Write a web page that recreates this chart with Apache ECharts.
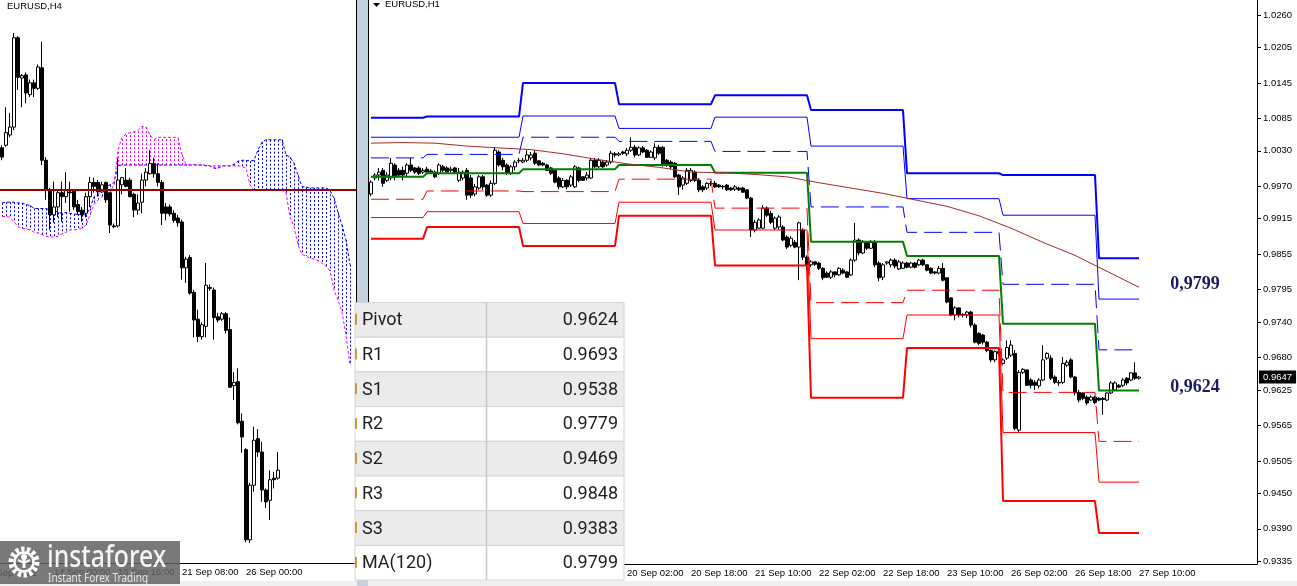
<!DOCTYPE html>
<html><head><meta charset="utf-8">
<script src="https://cdn.jsdelivr.net/npm/echarts@6/dist/echarts.min.js"></script>
<style>html,body{margin:0;padding:0;background:#fff;overflow:hidden}#c{width:1297px;height:586px}</style>
</head><body><div id="c"></div>
<script>
// ---------- categories ----------
const h4Days = ['9 Sep','12 Sep','13 Sep','14 Sep','15 Sep','16 Sep','19 Sep','20 Sep','21 Sep','22 Sep','23 Sep','26 Sep','27 Sep','28 Sep','29 Sep','30 Sep'];
const h1Days = ['15 Sep','16 Sep','19 Sep','20 Sep','21 Sep','22 Sep','23 Sep','26 Sep','27 Sep','28 Sep'];
const h4TickLabels = ['14 Sep 00:00','16 Sep 16:00','21 Sep 08:00','26 Sep 00:00'];
const h1TickLabels = ['20 Sep 02:00','20 Sep 18:00','21 Sep 10:00','22 Sep 02:00','22 Sep 18:00','23 Sep 10:00','26 Sep 02:00','26 Sep 18:00','27 Sep 10:00'];
const yTickLabels = [1.0260,1.0205,1.0145,1.0085,1.0030,0.9970,0.9915,0.9855,0.9795,0.9740,0.9680,0.9625,0.9565,0.9505,0.9450,0.9390,0.9335];

// ---------- H4 candles [open, close, low, high] ----------
const h4Candles = [
[1.0053,1.0041,1.0037,1.0056],[1.0056,1.0072,1.0054,1.0104],[1.0069,1.0079,1.0066,1.0097],[1.0079,1.0192,1.0075,1.0198],
[1.0192,1.0142,1.0126,1.0194],[1.0141,1.0144,1.0104,1.0146],[1.0145,1.0122,1.0109,1.0148],[1.0120,1.0135,1.0117,1.0139],
[1.0135,1.0128,1.0117,1.0139],[1.0128,1.0155,1.0126,1.0158],[1.0154,1.0037,1.0031,1.0187],[1.0037,0.9999,0.9987,1.0041],
[0.9999,0.9968,0.9949,1.0002],[0.9968,0.9978,0.9958,1.0010],[0.9978,0.9996,0.9965,0.9999],[0.9996,0.9991,0.9959,1.0010],
[0.9991,0.9999,0.9983,1.0022],[0.9997,0.9996,0.9972,1.0010],[0.9998,0.9978,0.9974,0.9999],[0.9981,0.9972,0.9968,0.9987],
[0.9974,0.9968,0.9959,0.9978],[0.9970,0.9991,0.9965,0.9996],[0.9991,1.0009,0.9978,1.0016],[1.0009,1.0004,0.9996,1.0015],
[1.0009,0.9997,0.9991,1.0012],[0.9997,1.0006,0.9996,1.0010],[1.0009,0.9987,0.9983,1.0010],[0.9996,0.9955,0.9945,0.9997],
[0.9954,0.9953,0.9951,0.9957],[0.9954,1.0012,0.9952,1.0040],[1.0006,1.0015,0.9994,1.0016],[1.0012,1.0004,1.0003,1.0027],
[1.0012,0.9991,0.9990,1.0015],[0.9994,0.9974,0.9965,0.9996],[0.9974,0.9983,0.9968,0.9994],[0.9984,1.0012,0.9970,1.0020],
[1.0012,1.0022,1.0004,1.0027],[1.0020,1.0033,1.0019,1.0050],[1.0033,1.0020,1.0015,1.0040],[1.0020,1.0009,1.0004,1.0033],
[1.0009,0.9970,0.9955,1.0012],[0.9978,0.9970,0.9961,0.9983],[0.9978,0.9969,0.9966,0.9981],[0.9970,0.9961,0.9958,0.9974],
[0.9964,0.9958,0.9953,0.9968],[0.9959,0.9901,0.9886,0.9962],[0.9901,0.9912,0.9882,0.9915],[0.9914,0.9869,0.9867,0.9917],
[0.9870,0.9835,0.9813,0.9873],[0.9836,0.9814,0.9807,0.9848],[0.9814,0.9829,0.9810,0.9832],[0.9827,0.9879,0.9813,0.9907],
[0.9876,0.9875,0.9872,0.9880],[0.9873,0.9838,0.9810,0.9876],[0.9839,0.9835,0.9832,0.9844],[0.9836,0.9843,0.9834,0.9845],
[0.9843,0.9822,0.9818,0.9845],[0.9823,0.9750,0.9749,0.9838],[0.9752,0.9756,0.9734,0.9769],[0.9757,0.9705,0.9703,0.9774],
[0.9707,0.9687,0.9667,0.9717],[0.9671,0.9557,0.9554,0.9673],[0.9557,0.9626,0.9553,0.9629],[0.9626,0.9683,0.9618,0.9700],
[0.9685,0.9668,0.9662,0.9697],[0.9668,0.9620,0.9605,0.9681],[0.9620,0.9605,0.9597,0.9622],[0.9607,0.9633,0.9582,0.9645],
[0.9635,0.9633,0.9622,0.9643],[0.9635,0.9645,0.9633,0.9668]
];
// Ichimoku cloud spans (H4)
const spanA = [0.9983,0.9984,0.9984,0.9984,0.9983,0.9983,0.9981,0.9980,0.9976,0.9976,0.9976,0.9976,0.9974,0.9974,0.9971,0.9970,
0.9971,0.9970,0.9969,0.9969,0.9968,0.9968,0.9976,0.9991,0.9994,0.9999,1.0004,1.0006,1.0009,1.0030,1.0031,1.0031,
1.0031,1.0031,1.0031,1.0031,1.0031,1.0031,1.0031,1.0031,1.0031,1.0031,1.0031,1.0031,1.0031,1.0031,1.0031,1.0031,
1.0031,1.0031,1.0031,1.0030,1.0030,1.0027,1.0027,1.0030,1.0030,1.0030,1.0032,1.0036,1.0037,1.0037,1.0036,1.0037,
1.0050,1.0060,1.0063,1.0063,1.0063,1.0063,1.0063,1.0044,1.0041,1.0033,1.0018,1.0004,1.0003,1.0002,1.0002,1.0002,
1.0002,1.0002,0.9999,0.9989,0.9971,0.9955,0.9936,0.9905];
const spanB = [0.9966,0.9966,0.9965,0.9959,0.9953,0.9951,0.9950,0.9949,0.9946,0.9945,0.9943,0.9941,0.9940,0.9940,0.9941,0.9944,
0.9946,0.9949,0.9949,0.9950,0.9951,0.9955,0.9968,0.9981,0.9987,0.9991,0.9994,0.9996,1.0006,1.0050,1.0066,1.0070,
1.0072,1.0073,1.0075,1.0080,1.0079,1.0069,1.0063,1.0066,1.0066,1.0066,1.0066,1.0066,1.0066,1.0044,1.0032,1.0031,
1.0032,1.0031,1.0031,1.0031,1.0030,1.0030,1.0030,1.0030,1.0030,1.0030,1.0030,1.0030,1.0029,1.0027,1.0006,0.9999,
1.0000,1.0000,1.0000,1.0000,1.0000,1.0000,0.9999,0.9996,0.9965,0.9953,0.9930,0.9918,0.9916,0.9913,0.9912,0.9910,
0.9907,0.9903,0.9897,0.9873,0.9860,0.9845,0.9816,0.9778];
const h4Level = 0.9999;

// ---------- H1 candles [open, close, low, high] ----------
const h1Candles = [
[0.9957,0.9977,0.9953,0.9980],[0.9984,0.9989,0.9980,0.9992],[0.9989,0.9994,0.9980,1.0001],[0.9997,0.9975,0.9969,1.0001],
[0.9980,0.9989,0.9977,0.9994],[0.9984,1.0009,0.9980,1.0018],[1.0006,0.9986,0.9980,1.0009],[0.9997,0.9989,0.9986,1.0001],
[0.9997,0.9989,0.9980,1.0003],[0.9992,1.0006,0.9986,1.0009],[1.0006,0.9997,0.9994,1.0018],[1.0001,0.9994,0.9991,1.0003],
[1.0001,0.9992,0.9989,1.0004],[0.9994,0.9997,0.9991,1.0001],[0.9999,0.9994,0.9992,1.0003],[0.9996,0.9994,0.9991,0.9999],
[0.9994,0.9986,0.9984,0.9997],[0.9992,1.0006,0.9989,1.0009],[1.0003,0.9997,0.9994,1.0006],[1.0001,0.9994,0.9991,1.0004],
[0.9997,0.9999,0.9994,1.0003],[1.0001,0.9994,0.9991,1.0003],[0.9980,0.9994,0.9977,1.0001],[0.9984,0.9994,0.9980,0.9997],
[0.9997,0.9955,0.9947,1.0001],[0.9984,0.9955,0.9950,0.9989],[0.9957,0.9969,0.9953,0.9974],[0.9967,0.9986,0.9964,0.9989],
[0.9986,0.9969,0.9964,0.9989],[0.9972,0.9955,0.9952,0.9974],[0.9955,0.9975,0.9952,0.9980],[0.9975,1.0031,0.9972,1.0036],
[1.0028,1.0006,1.0003,1.0031],[1.0014,1.0003,0.9997,1.0018],[1.0006,0.9992,0.9989,1.0009],[0.9992,1.0003,0.9989,1.0006],
[1.0003,1.0011,0.9997,1.0014],[1.0013,1.0014,1.0009,1.0018],[1.0011,1.0014,1.0009,1.0018],[1.0014,1.0023,1.0011,1.0031],
[1.0018,1.0023,1.0014,1.0028],[1.0026,1.0009,1.0006,1.0031],[1.0013,1.0006,1.0004,1.0014],[1.0009,1.0006,1.0004,1.0011],
[1.0006,0.9997,0.9996,1.0008],[1.0001,0.9992,0.9989,1.0003],[0.9997,0.9977,0.9975,0.9999],[0.9984,0.9969,0.9965,0.9987],
[0.9969,0.9980,0.9967,0.9984],[0.9980,0.9969,0.9965,0.9982],[0.9972,0.9986,0.9969,0.9989],[0.9969,1.0003,0.9967,1.0006],
[1.0001,0.9980,0.9977,1.0003],[0.9986,0.9980,0.9979,0.9987],[0.9984,0.9989,0.9980,0.9994],[0.9984,1.0014,0.9982,1.0018],
[1.0014,1.0003,1.0001,1.0018],[1.0003,1.0014,1.0001,1.0018],[1.0011,1.0003,1.0001,1.0014],[1.0006,1.0011,1.0003,1.0014],
[1.0011,1.0026,1.0008,1.0030],[1.0025,1.0023,1.0019,1.0028],[1.0023,1.0025,1.0021,1.0028],[1.0028,1.0026,1.0023,1.0030],
[1.0025,1.0031,1.0021,1.0035],[1.0031,1.0036,1.0028,1.0053],[1.0036,1.0023,1.0019,1.0040],[1.0023,1.0035,1.0021,1.0038],
[1.0035,1.0028,1.0026,1.0038],[1.0031,1.0019,1.0018,1.0033],[1.0019,1.0028,1.0018,1.0031],[1.0018,1.0036,1.0014,1.0043],
[1.0036,1.0026,1.0023,1.0040],[1.0036,1.0006,1.0003,1.0038],[1.0014,1.0006,1.0003,1.0016],[1.0011,1.0003,0.9999,1.0014],
[1.0009,0.9986,0.9984,1.0011],[0.9989,0.9969,0.9955,0.9991],[0.9972,0.9984,0.9964,0.9987],[0.9975,0.9997,0.9972,1.0001],
[0.9980,0.9997,0.9977,1.0001],[0.9994,0.9980,0.9977,0.9997],[0.9980,0.9964,0.9960,0.9984],[0.9969,0.9964,0.9960,0.9972],
[0.9967,0.9975,0.9964,0.9977],[0.9974,0.9975,0.9970,0.9979],[0.9975,0.9969,0.9967,0.9979],[0.9972,0.9969,0.9967,0.9974],
[0.9970,0.9969,0.9965,0.9972],[0.9972,0.9964,0.9962,0.9974],[0.9967,0.9964,0.9962,0.9969],[0.9965,0.9969,0.9962,0.9972],
[0.9967,0.9964,0.9962,0.9969],[0.9967,0.9960,0.9959,0.9969],[0.9964,0.9950,0.9948,0.9965],[0.9950,0.9896,0.9884,0.9952],
[0.9896,0.9909,0.9892,0.9913],[0.9899,0.9913,0.9898,0.9916],[0.9899,0.9933,0.9898,0.9938],[0.9933,0.9921,0.9918,0.9936],
[0.9924,0.9909,0.9906,0.9928],[0.9899,0.9916,0.9896,0.9919],[0.9901,0.9918,0.9896,0.9921],[0.9901,0.9879,0.9877,0.9904],
[0.9884,0.9867,0.9864,0.9887],[0.9870,0.9882,0.9867,0.9886],[0.9875,0.9867,0.9865,0.9879],[0.9867,0.9908,0.9811,0.9910],
[0.9896,0.9850,0.9845,0.9899],[0.9850,0.9837,0.9828,0.9853],[0.9837,0.9842,0.9833,0.9845],[0.9842,0.9838,0.9835,0.9843],
[0.9840,0.9831,0.9828,0.9842],[0.9831,0.9815,0.9811,0.9833],[0.9823,0.9816,0.9815,0.9826],[0.9816,0.9825,0.9813,0.9828],
[0.9825,0.9820,0.9816,0.9826],[0.9820,0.9831,0.9818,0.9833],[0.9828,0.9823,0.9821,0.9831],[0.9825,0.9816,0.9815,0.9826],
[0.9820,0.9845,0.9818,0.9848],[0.9845,0.9879,0.9842,0.9908],[0.9879,0.9857,0.9853,0.9882],[0.9857,0.9875,0.9855,0.9879],
[0.9875,0.9865,0.9862,0.9877],[0.9865,0.9875,0.9864,0.9879],[0.9875,0.9837,0.9833,0.9879],[0.9840,0.9815,0.9809,0.9843],
[0.9816,0.9837,0.9811,0.9840],[0.9840,0.9842,0.9837,0.9843],[0.9837,0.9845,0.9833,0.9848],[0.9845,0.9835,0.9831,0.9848],
[0.9830,0.9842,0.9828,0.9845],[0.9831,0.9840,0.9830,0.9843],[0.9840,0.9833,0.9831,0.9842],[0.9833,0.9840,0.9831,0.9842],
[0.9840,0.9833,0.9831,0.9842],[0.9837,0.9845,0.9835,0.9847],[0.9845,0.9837,0.9835,0.9847],[0.9837,0.9828,0.9826,0.9838],
[0.9831,0.9823,0.9821,0.9833],[0.9825,0.9823,0.9821,0.9826],[0.9823,0.9831,0.9821,0.9835],[0.9831,0.9811,0.9809,0.9840],
[0.9815,0.9774,0.9772,0.9816],[0.9781,0.9752,0.9750,0.9782],[0.9752,0.9764,0.9743,0.9767],[0.9764,0.9752,0.9748,0.9765],
[0.9752,0.9753,0.9748,0.9755],[0.9752,0.9757,0.9747,0.9759],[0.9757,0.9735,0.9731,0.9759],[0.9735,0.9706,0.9704,0.9738],
[0.9721,0.9704,0.9701,0.9723],[0.9718,0.9706,0.9702,0.9720],[0.9706,0.9692,0.9689,0.9708],[0.9692,0.9676,0.9672,0.9694],
[0.9676,0.9690,0.9672,0.9692],[0.9690,0.9687,0.9684,0.9694],[0.9670,0.9676,0.9668,0.9679],[0.9679,0.9697,0.9676,0.9709],
[0.9684,0.9701,0.9681,0.9709],[0.9687,0.9560,0.9557,0.9693],[0.9557,0.9655,0.9554,0.9659],[0.9655,0.9660,0.9652,0.9662],
[0.9659,0.9633,0.9632,0.9660],[0.9642,0.9633,0.9628,0.9645],[0.9638,0.9633,0.9625,0.9642],[0.9632,0.9642,0.9628,0.9645],
[0.9642,0.9676,0.9640,0.9701],[0.9679,0.9687,0.9676,0.9689],[0.9679,0.9645,0.9642,0.9684],[0.9647,0.9638,0.9635,0.9650],
[0.9638,0.9637,0.9632,0.9642],[0.9638,0.9670,0.9635,0.9681],[0.9667,0.9672,0.9664,0.9676],[0.9676,0.9647,0.9645,0.9679],
[0.9647,0.9620,0.9616,0.9649],[0.9621,0.9608,0.9604,0.9625],[0.9620,0.9611,0.9608,0.9621],[0.9613,0.9603,0.9599,0.9616],
[0.9608,0.9613,0.9606,0.9616],[0.9613,0.9604,0.9601,0.9615],[0.9611,0.9608,0.9606,0.9613],[0.9611,0.9609,0.9583,0.9613],
[0.9608,0.9620,0.9606,0.9621],[0.9620,0.9637,0.9618,0.9640],[0.9625,0.9637,0.9623,0.9640],[0.9633,0.9630,0.9628,0.9635],
[0.9633,0.9642,0.9630,0.9645],[0.9645,0.9637,0.9633,0.9647],[0.9642,0.9654,0.9640,0.9655],[0.9654,0.9645,0.9642,0.9672],
[0.9645,0.9647,0.9643,0.9649]
];

// ---------- daily pivot levels (H1) ----------
const pivotDays = ['15 Sep','16 Sep','19 Sep','20 Sep','21 Sep','22 Sep','23 Sep','26 Sep','27 Sep'];
const levelR3 = [1.0086,1.0088,1.0145,1.0109,1.0124,1.0099,0.9992,0.9989,0.9848];
const levelR2 = [1.0053,1.0053,1.0089,1.0068,1.0087,1.0038,0.9949,0.9921,0.9779];
const levelR1 = [1.0018,1.0024,1.0053,1.0046,1.0029,0.9935,0.9892,0.9804,0.9693];
const levelP  = [0.9986,0.9992,0.9999,1.0006,0.9993,0.9876,0.9852,0.9737,0.9624];
const levelS1 = [0.9948,0.9962,0.9961,0.9982,0.9933,0.9773,0.9794,0.9621,0.9538];
const levelS2 = [0.9917,0.9927,0.9907,0.9943,0.9896,0.9712,0.9752,0.9553,0.9469];
const levelS3 = [0.9881,0.9901,0.9869,0.9920,0.9836,0.9612,0.9696,0.9437,0.9383];
// MA(120) sampled every 8 H1 bars
const maStep = 8;
const ma120 = [1.0043,1.0044,1.0043,1.0038,1.0035,1.0032,1.0025,1.0016,1.0008,1.0002,0.9994,0.9993,0.9990,
0.9986,0.9976,0.9967,0.9958,0.9947,0.9936,0.9920,0.9899,0.9875,0.9853,0.9826,0.9799];

// ---------- table ----------
const tableLabels = ['Pivot','R1','S1','R2','S2','R3','S3','MA(120)'];
const tableValues = [0.9624,0.9693,0.9538,0.9779,0.9469,0.9848,0.9383,0.9799];

// ---------- build ----------
function hourLabels(days, firstHour, step, count){
  const out=[]; let h=firstHour, d=0;
  while(out.length<count){ out.push(days[d]+' '+String(h).padStart(2,'0')+':00'); h+=step; if(h>=24){h=0; d++;} }
  return out;
}
const h4Cats = hourLabels(h4Days, 20, 4, 89);
const h1Cats = hourLabels(h1Days, 10, 1, 222);
const dayOf = c => c.split(' ').slice(0,2).join(' ');
const FONT = 'Liberation Sans';

function levelSeries(arr, color, width, dashed){
  return {type:'line', xAxisIndex:1, yAxisIndex:1, silent:true, symbol:'none', showSymbol:false, z:4,
    data: h1Cats.map((c,i)=> i<h1Candles.length ? arr[pivotDays.indexOf(dayOf(c))] : '-'),
    lineStyle:{color, width, type: dashed ? [18,7] : 'solid'}};
}
const candleStyle = {color:'#ffffff', color0:'#000000', borderColor:'#000000', borderColor0:'#000000', borderWidth:1};
const lastClose = h1Candles[h1Candles.length-1][1];

const g = [];
g.push({type:'rect', shape:{x:357,y:0,width:11,height:586}, style:{fill:'#c4d1df'}, z:50});
g.push({type:'line', shape:{x1:368.5,y1:0,x2:368.5,y2:564}, style:{stroke:'#000',lineWidth:1}, z:51});
g.push({type:'rect', shape:{x:0,y:581,width:1297,height:5}, style:{fill:'#efefef'}, z:40});
g.push({type:'text', x:7, y:6, style:{text:'EURUSD,H4', font:'9.5px "'+FONT+'"', fill:'#000', textVerticalAlign:'middle', verticalAlign:'middle'}, z:60});
g.push({type:'polygon', shape:{points:[[373,3],[380,3],[376.5,7]]}, style:{fill:'#000'}, z:60});
g.push({type:'text', x:385, y:4, style:{text:'EURUSD,H1', font:'9.5px "'+FONT+'"', fill:'#000', textVerticalAlign:'middle', verticalAlign:'middle'}, z:60});
g.push({type:'text', x:37, y:573, style:{text:'9 Sep 2022', font:'9.5px "'+FONT+'"', fill:'#000', textAlign:'right', align:'right', textVerticalAlign:'middle', verticalAlign:'middle'}, z:60});
// table
const tTop=302.5, rowH=34.7, tL=355, tR=624, tDiv=486;
tableLabels.forEach((lab,r)=>{
  const y=tTop+r*rowH;
  g.push({type:'rect', shape:{x:tL,y:y,width:tR-tL,height:rowH}, style:{fill: r%2===0?'#ebebeb':'#ffffff', stroke:'#d4d4d4', lineWidth:1}, z:70});
  g.push({type:'rect', shape:{x:tL,y:y+rowH/2-6,width:2,height:11}, style:{fill:'#c99a3e'}, z:72});
  g.push({type:'text', x:tL+7, y:y+rowH/2+1, style:{text:lab, font:'18px Roboto', fill:'#1e1e1e', textVerticalAlign:'middle', verticalAlign:'middle'}, z:72});
  g.push({type:'text', x:tR-6, y:y+rowH/2+1, style:{text:tableValues[r].toFixed(4), font:'18px Roboto', fill:'#1e1e1e', textAlign:'right', align:'right', textVerticalAlign:'middle', verticalAlign:'middle'}, z:72});
});
g.push({type:'line', shape:{x1:tDiv+0.5,y1:tTop,x2:tDiv+0.5,y2:tTop+8*rowH}, style:{stroke:'#c8c8c8',lineWidth:1.5}, z:71});
// logo
g.push({type:'rect', shape:{x:0,y:541,width:180,height:43}, style:{fill:'rgba(98,98,98,0.85)'}, z:80});
g.push({type:'circle', shape:{cx:24,cy:562,r:13}, style:{fill:'none', stroke:'#fff', lineWidth:5, lineDash:[3.4,2.4]}, z:81});
g.push({type:'circle', shape:{cx:24,cy:562,r:9.5}, style:{fill:'none', stroke:'#fff', lineWidth:2.5}, z:81});
g.push({type:'circle', shape:{cx:24,cy:557,r:3}, style:{fill:'#fff'}, z:81});
g.push({type:'rect', shape:{x:22.5,y:559,width:3,height:9}, style:{fill:'#fff'}, z:81});
g.push({type:'polyline', shape:{points:[[18,560],[24,563],[30,560]]}, style:{stroke:'#fff', lineWidth:2, fill:'none'}, z:81});
g.push({type:'text', x:47, y:558, scaleX:0.8, style:{text:'instaforex', font:'500 31px "Noto Sans"', fill:'#f4f4f4', textVerticalAlign:'middle', verticalAlign:'middle'}, z:82});
g.push({type:'text', x:48, y:578, scaleX:0.8, style:{text:'Instant Forex Trading', font:'12.5px "Noto Sans"', fill:'#e6e6e6', textVerticalAlign:'middle', verticalAlign:'middle'}, z:82});

const option = {
  animation:false,
  backgroundColor:'#ffffff',
  grid:[{left:0, top:0, width:356, height:563, containLabel:false, outerBoundsMode:'none'},
        {left:369, top:0, width:888, height:564, containLabel:false, outerBoundsMode:'none'}],
  xAxis:[
    {type:'category', gridIndex:0, data:h4Cats, boundaryGap:true,
     axisLine:{lineStyle:{color:'#000'}},
     axisTick:{alignWithLabel:true, length:4, interval:(i,v)=>h4TickLabels.includes(v), lineStyle:{color:'#000'}},
     axisLabel:{interval:(i,v)=>h4TickLabels.includes(v), align:'left', margin:4, color:'#000', fontFamily:FONT, fontSize:9.5},
     splitLine:{show:false}},
    {type:'category', gridIndex:1, data:h1Cats, boundaryGap:true,
     axisLine:{lineStyle:{color:'#000'}},
     axisTick:{alignWithLabel:true, length:4, interval:(i,v)=>h1TickLabels.includes(v), lineStyle:{color:'#000'}},
     axisLabel:{interval:(i,v)=>h1TickLabels.includes(v), align:'left', margin:4, color:'#000', fontFamily:FONT, fontSize:9.5},
     splitLine:{show:false}}
  ],
  yAxis:[
    {type:'value', gridIndex:0, min:0.95277, max:1.02397, position:'right',
     axisLine:{show:true, lineStyle:{color:'#000'}}, axisTick:{show:false}, axisLabel:{show:false}, splitLine:{show:false}},
    {type:'value', gridIndex:1, min:0.93304, max:1.02854, position:'right',
     axisLine:{show:true, lineStyle:{color:'#000'}},
     axisTick:{show:true, length:4, customValues:yTickLabels, lineStyle:{color:'#000'}},
     axisLabel:{customValues:yTickLabels, formatter:v=>v.toFixed(4), margin:6, color:'#000', fontFamily:FONT, fontSize:9.5},
     splitLine:{show:false}},
    {type:'value', gridIndex:1, min:0.93304, max:1.02854, position:'right', z:30,
     axisLine:{show:false}, axisTick:{show:false}, splitLine:{show:false},
     axisLabel:{customValues:[lastClose], formatter:v=>v.toFixed(4), margin:2, color:'#ffffff', backgroundColor:'#000000',
       padding:[2,4,1,4], fontFamily:FONT, fontSize:9.5}}
  ],
  series:[
    {type:'custom', xAxisIndex:0, yAxisIndex:0, z:1, silent:true,
     data: spanA.map((a,i)=>[i,a,spanB[i]]), encode:{x:0, y:[1,2]},
     renderItem:(params, api)=>{
       const i=api.value(0), a=api.value(1), b=api.value(2);
       const p1=api.coord([i,a]), p2=api.coord([i,b]);
       const x=Math.round(p1[0])+0.5;
       return {type:'line', shape:{x1:x,y1:p1[1],x2:x,y2:p2[1]}, style:{stroke: a>=b?'#0000ff':'#ff00ff', lineWidth:1, lineDash:[2,2]}};
     }},
    {type:'line', xAxisIndex:0, yAxisIndex:0, data:spanA, symbol:'none', silent:true, z:2, lineStyle:{color:'#0000ff', width:1, type:[3,2]}},
    {type:'line', xAxisIndex:0, yAxisIndex:0, data:spanB, symbol:'none', silent:true, z:2, lineStyle:{color:'#ff00ff', width:1, type:[3,2]}},
    {type:'candlestick', xAxisIndex:0, yAxisIndex:0, data:h4Candles, barWidth:3, itemStyle:candleStyle, z:3, silent:true,
     markLine:{silent:true, symbol:'none', label:{show:false}, lineStyle:{color:'#990000', width:2, type:'solid'}, data:[{yAxis:h4Level}]}},
    {type:'candlestick', xAxisIndex:1, yAxisIndex:1, data:h1Candles, barWidth:3, itemStyle:candleStyle, z:3, silent:true,
     markPoint:{symbol:'circle', symbolSize:0, silent:true,
       label:{show:true, position:'inside', color:'#1b1a62', fontFamily:'Liberation Serif', fontWeight:'bold', fontSize:18, offset:[0,-3]},
       data:[
         {coord:[h1Cats[206], tableValues[7]], label:{formatter:tableValues[7].toFixed(4).replace('.',',')}},
         {coord:[h1Cats[206], tableValues[0]], label:{formatter:tableValues[0].toFixed(4).replace('.',',')}}
       ]}},
    levelSeries(levelR3,'#0000ff',2,false),
    levelSeries(levelR2,'#0000ff',1,false),
    levelSeries(levelR1,'#0000ff',1,true),
    levelSeries(levelP,'#008000',2,false),
    levelSeries(levelS1,'#ff0000',1,true),
    levelSeries(levelS2,'#ff0000',1,false),
    levelSeries(levelS3,'#ff0000',2,false),
    {type:'line', xAxisIndex:1, yAxisIndex:1, symbol:'none', silent:true, z:4,
     data: ma120.map((v,k)=>[k*maStep, v]), lineStyle:{color:'#a52a2a', width:1}}
  ],
  graphic: g
};
const chart = echarts.init(document.getElementById('c'), null, {renderer:'canvas'});
chart.setOption(option);
</script>
</body></html>
